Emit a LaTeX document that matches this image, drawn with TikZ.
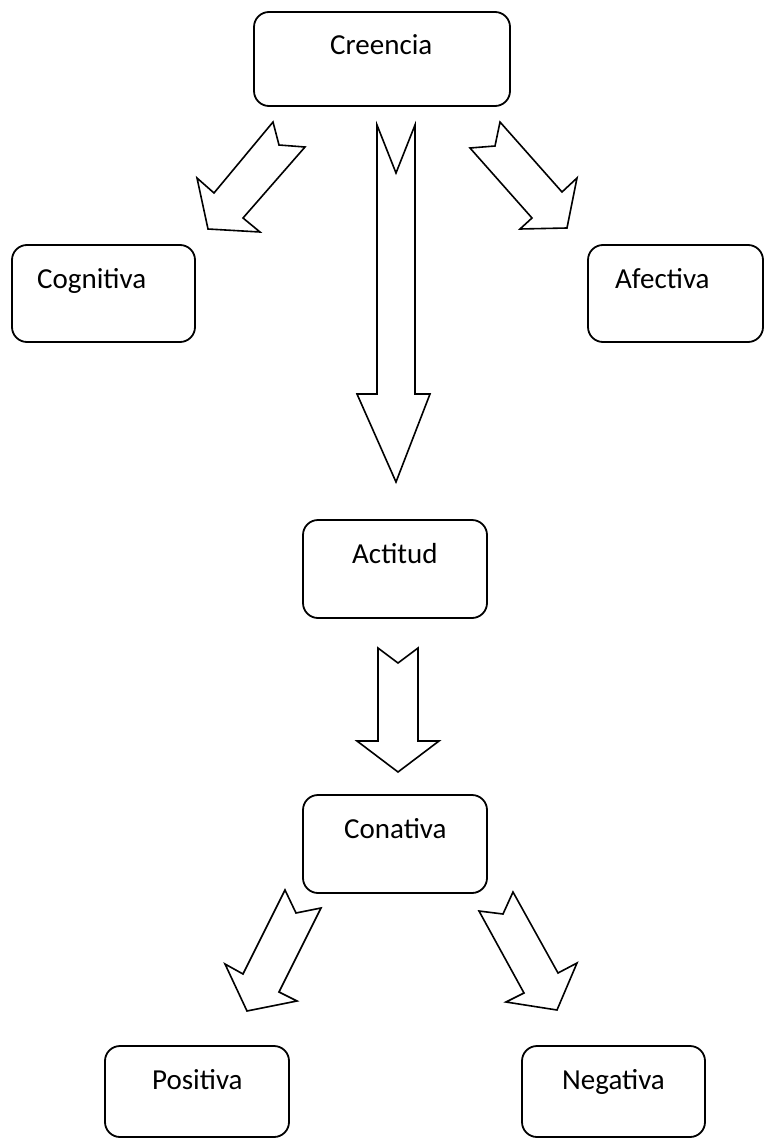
\documentclass[tikz,border=0pt]{standalone}
\usepackage{fontspec}
\setmainfont{Carlito}
\begin{document}
\begin{tikzpicture}[x=1pt,y=-1pt,
  box/.style={draw=black,line width=1.8pt,rounded corners=15pt,inner sep=0pt,fill=white},
  lbl/.style={inner sep=0pt,anchor=base west,font=\fontsize{29}{35}\selectfont},
  blockarrow/.style={draw=black,line width=1.6pt,fill=white,line join=miter}]
\useasboundingbox[fill=white] (0,0) rectangle (764,1140);
% boxes
\node[box,minimum width=256pt,minimum height=94pt] (creencia) at (382,59) {};
\node[box,minimum width=183pt,minimum height=97pt] (cognitiva) at (103.5,293.5) {};
\node[box,minimum width=175pt,minimum height=97pt] (afectiva) at (675.5,293.5) {};
\node[box,minimum width=184pt,minimum height=98pt] (actitud) at (395,569) {};
\node[box,minimum width=184pt,minimum height=98pt] (conativa) at (395,844) {};
\node[box,minimum width=184pt,minimum height=91pt] (positiva) at (197,1091.5) {};
\node[box,minimum width=183pt,minimum height=91pt] (negativa) at (613.5,1091.5) {};
% labels
\node[lbl] (tcreencia) at (330,55) {Creencia};
\node[lbl] (tcognitiva) at (37,288) {Cognitiva};
\node[lbl] (tafectiva) at (615,288) {Afectiva};
\node[lbl] (tactitud) at (352,563) {Actitud};
\node[lbl] (tconativa) at (344,838) {Conativa};
\node[lbl] (tpositiva) at (152,1089) {Positiva};
\node[lbl] (tnegativa) at (562,1089) {Negativa};
% block arrows
\draw[blockarrow] (273,122) -- (279,145) -- (305,147) -- (243,218) -- (260,232) -- (208,229) -- (197,178) -- (214,193) -- cycle;
\draw[blockarrow] (500,122) -- (495,146) -- (470,148) -- (532,218) -- (520,229) -- (567,228) -- (577,178) -- (562,192) -- cycle;
\draw[blockarrow] (377,125) -- (396,173) -- (415,125) -- (415,394) -- (430,394) -- (396,482) -- (357,394) -- (377,394) -- cycle;
\draw[blockarrow] (378,648) -- (398,663) -- (418,648) -- (418,741) -- (439,741) -- (398,772) -- (357,741) -- (378,741) -- cycle;
\draw[blockarrow] (285,890) -- (296,913) -- (321,908) -- (279,992) -- (297,1001) -- (247,1011) -- (225,964) -- (243,974) -- cycle;
\draw[blockarrow] (513,892) -- (558,973) -- (577,963) -- (557,1010) -- (506,1002) -- (524,993) -- (479,911) -- (503,914) -- cycle;
\end{tikzpicture}
\end{document}
